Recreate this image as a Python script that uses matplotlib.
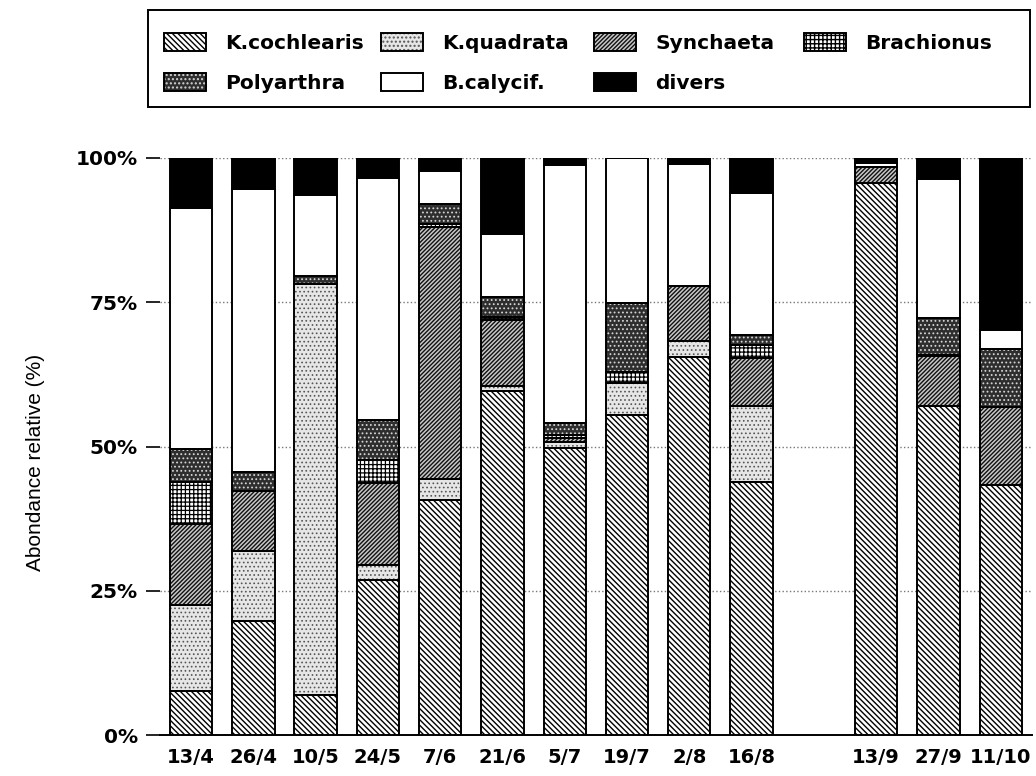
import matplotlib.pyplot as plt
from matplotlib.patches import Rectangle
import numpy as np

dates = ['13/4', '26/4', '10/5', '24/5', '7/6', '21/6', '5/7', '19/7', '2/8', '16/8',
         '13/9', '27/9', '11/10']
# slot 10 is left empty between 16/8 and 13/9
slots = [0, 1, 2, 3, 4, 5, 6, 7, 8, 9, 11, 12, 13]

k_cochlearis = [7.7, 19.8, 7.0, 26.9, 40.7, 59.7, 49.8, 55.5, 65.5, 43.9, 95.6, 57.0, 43.3]
k_quadrata = [14.8, 12.1, 71.2, 2.6, 3.7, 0.8, 1.0, 5.5, 2.7, 13.1, 0, 0, 0]
synchaeta = [14.1, 10.4, 0, 14.1, 43.6, 11.4, 0.6, 0, 9.7, 8.3, 2.9, 8.6, 13.6]
brachionus = [7.3, 0, 0, 4.1, 0.5, 0.6, 0.6, 1.9, 0, 2.3, 0, 0.3, 0]
polyarthra = [5.6, 3.3, 1.3, 6.9, 3.6, 3.4, 2.0, 12.0, 0, 1.7, 0, 6.4, 10.0]
b_calycif = [41.8, 49.1, 14.1, 42.0, 5.6, 10.9, 44.8, 25.1, 21.0, 24.7, 0.7, 24.1, 3.3]
divers = [8.7, 5.3, 6.4, 3.4, 2.3, 13.2, 1.2, 0, 1.1, 6.0, 0.8, 3.6, 29.8]

# name, values, fill, hatch, hatch colour, hatch line width
series = [
    ('K.cochlearis', k_cochlearis, 'white', '\\' * 6, 'black', 1.0),
    ('K.quadrata', k_quadrata, '#e6e6e6', '....', '#555555', 0.7),
    ('Synchaeta', synchaeta, '#c8c8c8', '/' * 8, '#111111', 1.0),
    ('Brachionus', brachionus, 'white', '+' * 4, 'black', 0.9),
    ('Polyarthra', polyarthra, '#2e2e2e', '....', '#d4d4d4', 0.8),
    ('B.calycif.', b_calycif, 'white', '', 'white', 1.0),
    ('divers', divers, 'black', '', 'black', 1.0),
]

plt.rcParams['font.family'] = 'DejaVu Sans'

fig = plt.figure(figsize=(10.36, 7.76), dpi=100)
ax = fig.add_axes([0.1544, 0.0528, 0.8416, 0.7436])

bottom = np.zeros(len(dates))
handles = {}
for name, vals, face, hatch, hcol, hlw in series:
    vals = np.array(vals)
    with plt.rc_context({'hatch.linewidth': hlw}):
        fill = ax.bar(slots, vals, 0.68, bottom=bottom, color=face, edgecolor=hcol,
                      linewidth=0, hatch=hatch, zorder=3)
    outline = ax.bar(slots, vals, 0.68, bottom=bottom, fill=False, edgecolor='black',
                     linewidth=1.4, zorder=4)
    handles[name] = (fill, outline)
    bottom += vals

ax.set_xlim(-0.5, 13.5)
ax.set_ylim(0, 100)
ax.set_yticks([0, 25, 50, 75, 100])
ax.set_yticklabels(['0%', '25%', '50%', '75%', '100%'], fontsize=14.5, fontweight='bold')
ax.set_xticks(slots)
ax.set_xticklabels(dates, fontsize=14, fontweight='bold')
ax.tick_params(axis='x', length=0, pad=9)
ax.tick_params(axis='y', length=10, width=1.2, pad=6)
ax.grid(axis='y', linestyle=':', color='#777777', linewidth=1.0, zorder=0)

for side in ['top', 'right', 'left']:
    ax.spines[side].set_visible(False)
ax.spines['bottom'].set_linewidth(1.4)

ax.set_ylabel('Abondance relative (%)', fontsize=15, family='Liberation Sans')
ax.yaxis.set_label_coords(-0.132, 0.473)

# legend: framed box with four evenly spaced columns
W, H = 1036, 776
fig.add_artist(Rectangle((148 / W, 1 - 107 / H), 882 / W, 97 / H, transform=fig.transFigure,
                         fill=False, edgecolor='black', linewidth=1.4))
columns = [['K.cochlearis', 'Polyarthra'], ['K.quadrata', 'B.calycif.'],
           ['Synchaeta', 'divers'], ['Brachionus']]
col_x = [164, 381, 594, 804]
for names, x in zip(columns, col_x):
    fig.legend([handles[n] for n in names], names, loc='upper left',
               bbox_to_anchor=(x / W, 1 - 33 / H), frameon=False, borderpad=0,
               borderaxespad=0, prop={'size': 14.5, 'weight': 'bold'},
               handlelength=2.1, handleheight=1.0, handletextpad=0.95, labelspacing=1.0)

fig.savefig('out.png', dpi=100)
